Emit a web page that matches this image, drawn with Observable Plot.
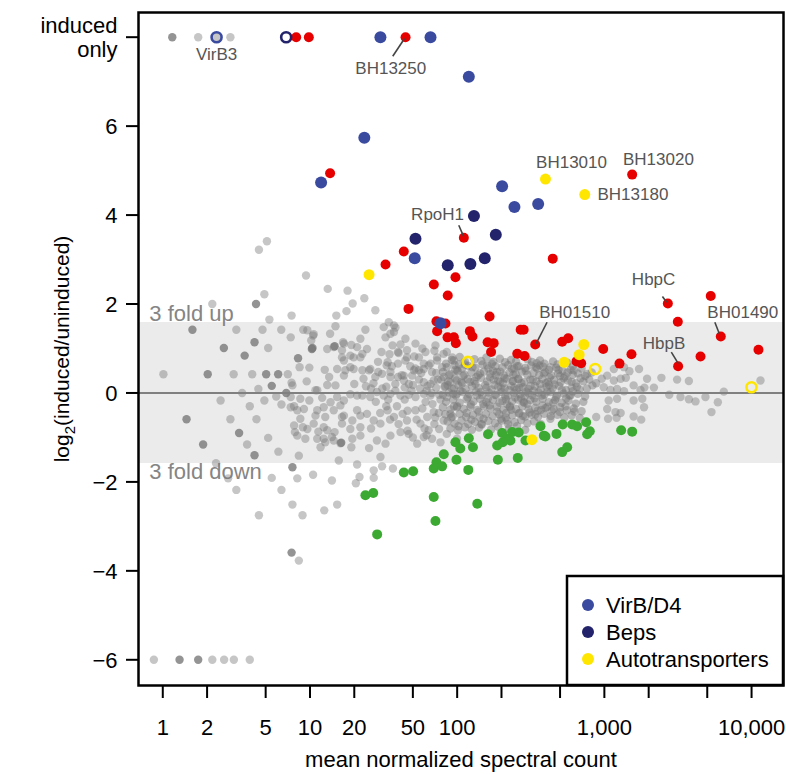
<!DOCTYPE html>
<html><head><meta charset="utf-8">
<script src="https://cdn.jsdelivr.net/npm/d3@7"></script>
<script src="https://cdn.jsdelivr.net/npm/@observablehq/plot@0.6"></script>
<style>
html,body{margin:0;padding:0;background:#fff;}
#chart{width:786px;height:774px;}
</style></head><body><div id="chart"></div>
<script>
// ---------- data ----------
const xTickValues = [1,2,5,10,20,50,100,200,500,1000,2000,5000,10000];
const xTickLabels = ["1","2","5","10","20","50","100","","","1,000","","","10,000"];
const yTickValues = [8,6,4,2,0,-2,-4,-6];
const yTickLabels = ["induced\nonly","6","4","2","0","\u22122","\u22124","\u22126"];

// [mean normalized spectral count, log2(induced/uninduced)]
const graySparse = [
[1.74,8],[2.32,8],[2.88,8],
[0.87,-6],[2.17,-6],[2.61,-6],[3.04,-6],[3.90,-6],
[5.1,3.41],[4.5,3.22],[9.4,2.64],[13.2,2.34],[18,2.30],[4.9,2.22],[2.17,2.00],[23.4,2.13],[19.5,2.01],[17.7,1.84],[27.8,1.86],[15.1,1.74],[7.5,1.74],[5.3,1.65],[3.16,1.42],[4.76,1.42],[6.38,1.42],[9.0,1.42],[10.5,1.29],[7.4,1.25],[5.2,1.01],[14.5,1.03],[13.7,1.33],[14.9,1.50],[23.8,1.42],[8.5,0.58],[1.01,0.42],[3.03,0.42],[4.05,0.42],[7.07,0.42],[4.46,0.09],[7.5,0.23],[9.5,0.26],[10.9,0.06],[13.1,0.18],[13.5,0.36],[17,0.39],[18.8,0.58],[16.5,0.80],[18.8,0.84],[22,0.80],[20.9,1.03],[17,1.11],[19.1,1.08],[22,1.22],[31.7,1.48],[34.3,1.59],[38.1,1.47],[32.6,1.25],[37.2,1.37],[44.5,1.22],[36.4,1.07],[41.2,1.09],[52.1,1.11],[30.6,0.92],[34.7,0.87],[39.6,0.92],[45.6,0.80],[51.1,0.82],[33.2,0.62],[39.6,0.66],[25.7,0.54],[29.1,0.47],[23.1,0.32],[35.2,0.36],[43.4,0.39],[50.9,0.51],[59.3,0.66],[60.9,0.92],[71.2,1.07],[80.9,0.88],[92.7,0.80],[73.1,0.73],
[9.6,1.41],[10.6,1.32],[10.2,1.18],[13.1,0.99],[9.9,0.57],[12.6,0.52],[16.8,1.14],[24.4,0.99],[16.5,0.96],[17,0.73],[19.8,0.80],[22.7,0.88],[15.3,0.54],[17.4,0.51],[19.8,0.54],[22.7,0.51],[25.2,0.51],[37.2,1.52],[35.2,1.33],[33.7,0.69],[45.6,0.96],[44.5,0.73],[27.8,0.36],[30.9,0.43],[35.2,0.47],[39.6,0.36],[43.4,0.28],[49.4,0.39],[54.9,0.51],[65.9,0.66],[73.1,0.80],[59.3,0.54],[67.5,0.47],[79,0.58],[85,0.92],[94.8,0.73],[99.8,0.51],[80.9,0.36],[90,0.24],[69.3,0.28],[59.3,0.24],
[7.6,0.17],[7.4,-0.09],[8.6,-0.13],[9.9,-0.17],[11.2,0.06],[12.1,-0.11],[14.9,0.17],[15.3,-0.09],[17,-0.17],[13.8,-0.21],
[18.8,-0.03],[20.9,-0.06],[22.7,-0.06],[25.7,-0.09],[28.5,0.02],[31.7,-0.06],[35.2,-0.02],[41.2,-0.06],[46.8,-0.04],[52.1,-0.09],[59.3,-0.02],[65.9,-0.06],[75.4,-0.04],[85.1,-0.09],[99.8,-0.02],
[20,0.2],[24,0.15],[27,0.22],[33,0.14],[38,0.2],[44,0.12],[50,0.18],[56,0.1],[63,0.16],[72,0.12],[83,0.15],[95,0.1],
[7.4,-0.32],[8.2,-0.39],[9.1,-0.36],[11.2,-0.39],[12.4,-0.32],[14.5,-0.39],[16.1,-0.28],[8.6,-0.58],[10.9,-0.51],[12.7,-0.54],[16.5,-0.54],[7.8,-0.73],[9.6,-0.81],[10.6,-0.69],[12.4,-0.77],[19.4,-0.62],[22,-0.51],[20.9,-0.39],[24.4,-0.47],[27.1,-0.62],[30.1,-0.69],[33.7,-0.39],[37.2,-0.54],[42.6,-0.47],[45.6,-0.62],[52.1,-0.39],[56.3,-0.69],[62.6,-0.54],[69.3,-0.43],[80.9,-0.62],[90,-0.47],[99.8,-0.32],[18.8,-0.81],[22,-0.77],[16.5,-0.69],[8.2,-0.96],[9.3,-1.03],[11.2,-1.03],[12.4,-1.03],[14.1,-0.99],[16.1,-1.13],[19.4,-1.03],[22,-0.96],[11.8,-1.22],[12.7,-1.11],[8.4,-1.41],[15.7,-1.52],[20.9,-1.61],[30.1,-1.44],[25.2,-1.24],[28.5,-1.07],[32.6,-1.14],[35.2,-0.96],[41.2,-0.88],[46.8,-0.92],[53.5,-1.14],[59.3,-0.99],[67.5,-1.03],[77,-1.11],[64,-0.84],[75.4,-0.81],[85,-0.92],[99.8,-1.03],
[2.47,-0.17],[3.46,0.00],[3.9,-0.30],[4.9,-0.17],[5.9,-0.08],[6.4,-0.26],[7.8,-0.30],[2.88,-0.59],[4.33,-0.59],[3.74,-1.16],[5.2,-1.01],[6.1,-1.32],[2.3,-1.58],[2.78,-1.92],[3.16,-2.18],[5.5,-1.91],[6.4,-2.18],[8.2,-1.92],[10.5,-1.84],[14.1,-1.97],[7.6,-2.51],[4.5,-2.75],[8.9,-2.75],[12.5,-2.64],[15.3,-2.51],[8.4,-3.77],[14.5,-1.07],[19.1,-1.22],[30.9,-1.65],[27.1,-1.74],[27.1,-1.91],[21.7,-1.89],[20.5,-2.03],[36.6,-1.70],[7.9,-0.88],[8.95,-0.77],[11.4,-0.87],[13.1,-0.84],[14.7,-0.88],[17,-0.51],
[55,0.3],[62,0.05],[68,-0.25],[58,-0.35],[72,0.45],[66,0.2],[75,-0.45],[52,0.55],[47,0.2],[44,-0.15],[70,-0.7],[60,-0.8],[40,-0.7],[48,0.6],[38,0.05],[33,-0.3],[28,-0.2],[26,0.1],[30,-0.45],
[31,0.1],[34,-0.15],[36,0.6],[39,-0.3],[42,0.4],[46,-0.4],[49,0.05],[53,-0.6],[57,0.45],[61,-0.2],[64,0.62],[67,0.0],[71,-0.55],[74,0.3],[77,-0.15],[40,0.9],[46,-0.85],[55,0.8],[62,-0.95],[70,0.95],[35,-0.6],[29,0.7],[26,-0.8],[58,1.0],[50,-1.0],
[1160,0.54],[1360,0.58],[1480,0.49],[1720,0.54],[1045,0.39],[1160,0.28],[1290,0.32],[1400,0.34],[1950,0.32],[2440,0.34],[3120,0.30],[3750,0.27],[1580,0.17],[1870,0.12],[2170,0.12],[990,0.13],[1100,0.07],[1220,0.09],[1360,0.04],[1760,0.07],[2760,-0.04],[3290,-0.09],[3750,-0.14],[4160,-0.19],[4860,-0.09],[5340,-0.43],[5900,-0.21],[6480,0.03],[11500,0.28],[1070,-0.17],[1220,-0.13],[1580,-0.17],[1810,-0.13],[1860,-0.32],[1045,-0.36],[1190,-0.43],[1290,-0.45],[1060,-0.58],[1210,-0.56],[1580,-0.53],[1780,-0.60],[960,0.32],[880,-0.54],[347,0.67],[430,0.58],[620,0.51],[765,0.43]
];

const grayCore = [
[92,0.74],[104,0.81],[113,0.70],[131,0.76],[146,0.72],[158,0.80],[176,0.70],[195,0.77],[212,0.69],[232,0.74],[251,0.71],[300,0.76],[322,0.70],[365,0.73],[392,0.66],[448,0.71],[480,0.64],[560,0.68],[612,0.60],[700,0.55],[820,0.46],
[85,0.58],[96,0.63],[108,0.55],[119,0.61],[133,0.57],[149,0.64],[163,0.55],[182,0.60],[203,0.58],[222,0.63],[244,0.55],[262,0.60],[290,0.56],[318,0.62],[350,0.55],[384,0.59],[420,0.52],[470,0.57],[520,0.50],[590,0.52],[660,0.44],[740,0.38],
[80,0.47],[90,0.42],[101,0.49],[112,0.41],[125,0.46],[139,0.40],[152,0.48],[168,0.43],[186,0.47],[207,0.40],[227,0.46],[250,0.42],[275,0.48],[300,0.41],[330,0.45],[361,0.40],[395,0.47],[436,0.40],[485,0.44],[540,0.37],[610,0.41],[690,0.33],[790,0.30],[880,0.22],
[78,0.30],[87,0.26],[97,0.33],[107,0.25],[118,0.31],[131,0.27],[145,0.34],[160,0.26],[177,0.30],[196,0.25],[217,0.32],[238,0.27],[261,0.31],[286,0.24],[314,0.30],[346,0.26],[378,0.32],[414,0.25],[455,0.29],[505,0.24],[565,0.28],[640,0.22],[720,0.26],[830,0.17],
[82,0.14],[92,0.10],[102,0.17],[114,0.09],[126,0.15],[140,0.11],[155,0.18],[171,0.08],[190,0.14],[210,0.10],[232,0.16],[254,0.08],[279,0.13],[305,0.09],[337,0.15],[370,0.08],[405,0.14],[445,0.10],[492,0.16],[548,0.07],[600,0.12],[680,0.08],[760,0.10],
[80,-0.04],[88,0.01],[98,-0.06],[109,0.02],[121,-0.03],[134,0.03],[148,-0.05],[164,0.01],[181,-0.04],[200,0.02],[221,-0.06],[243,0.00],[268,-0.03],[294,0.03],[324,-0.05],[357,0.01],[392,-0.04],[432,0.02],[476,-0.06],[528,-0.01],[590,-0.05],[660,-0.02],[740,-0.08],
[84,-0.20],[94,-0.15],[104,-0.22],[116,-0.14],[129,-0.19],[143,-0.13],[158,-0.21],[175,-0.16],[194,-0.22],[214,-0.14],[236,-0.19],[259,-0.15],[285,-0.22],[314,-0.16],[345,-0.20],[381,-0.13],[420,-0.21],[462,-0.16],[512,-0.22],[570,-0.17],[640,-0.24],[720,-0.20],
[80,-0.32],[90,-0.37],[100,-0.30],[111,-0.36],[123,-0.31],[137,-0.38],[152,-0.30],[168,-0.35],[186,-0.31],[206,-0.38],[228,-0.32],[251,-0.36],[277,-0.30],[306,-0.37],[338,-0.33],[372,-0.38],[410,-0.31],[452,-0.36],[500,-0.32],[556,-0.39],[620,-0.35],[700,-0.41],
[83,-0.48],[93,-0.53],[104,-0.47],[115,-0.54],[128,-0.49],[142,-0.55],[157,-0.47],[174,-0.52],[193,-0.48],[214,-0.55],[237,-0.50],[262,-0.46],[290,-0.53],[320,-0.49],[354,-0.54],[390,-0.47],[432,-0.52],[480,-0.49],[535,-0.55],[600,-0.50],[680,-0.56],
[86,-0.64],[96,-0.69],[107,-0.62],[119,-0.70],[132,-0.65],[147,-0.71],[163,-0.63],[181,-0.68],[201,-0.62],[222,-0.70],[246,-0.66],[272,-0.61],[300,-0.68],[333,-0.64],[370,-0.70],[430,-0.58],
[90,-0.80],[101,-0.84],[113,-0.77],[126,-0.83],[141,-0.78],[170,-0.82],[190,-0.76],[225,-0.80],[255,-0.75],[290,-0.83],
[105,0.05],[118,-0.10],[133,0.20],[150,-0.25],[167,0.35],[184,-0.05],[205,0.22],[228,-0.30],[245,0.12],[272,-0.12],[110,0.38],[140,-0.42],[175,0.50],[198,-0.58],[260,0.32],[300,-0.25],[125,-0.60],[160,0.62],[215,-0.45],[330,0.05],[380,-0.28],[420,0.18],[95,-0.30],[88,0.40],[235,0.55],[280,-0.52],[145,0.02],[190,0.28],[122,0.25],[212,-0.08],
[97,0.52],[108,0.22],[116,-0.45],[127,0.58],[136,-0.05],[143,0.44],[151,-0.58],[158,0.12],[166,-0.28],[172,0.66],[179,0.18],[187,-0.42],[196,0.48],[203,-0.18],[210,0.33],[219,-0.62],[226,0.06],[233,-0.38],[241,0.41],[248,-0.10],[256,0.60],[265,-0.45],[273,0.22],[282,-0.20],[292,0.50],[303,0.00],[311,-0.44],[326,0.30],[335,-0.12],[343,0.58],[352,-0.40],[366,0.20],[375,-0.06],[388,0.44],[398,-0.34],[410,0.03],[425,0.35],[440,-0.40],[458,0.19],[470,-0.10],[488,0.52],[498,-0.43],[515,0.06],[530,0.33],[545,-0.30],[562,0.46],[580,-0.06],[598,0.25],[625,-0.42],[650,0.14],
[102,-0.75],[113,0.64],[124,-0.26],[135,0.36],[146,-0.70],[162,-0.12],[183,0.40],[199,0.10],[218,-0.25],[240,0.26],[264,0.12],[288,-0.08],[315,0.16],[340,-0.48],[362,0.62],[400,0.22],[450,-0.22],[500,0.38],[550,-0.12],[610,0.04],
[86,0.18],[91,-0.55],[99,0.28],[84,0.66],[94,-0.02],[103,0.64]
];

// points where several proteins coincide (drawn darker)
const grayStacked = [
[1.16,8],[1.30,-6],[1.74,-6],[4.3,2.00],[1.59,1.42],[4.2,1.14],[10.4,1.01],[2.6,1.01],[3.6,0.84],[8.3,0.78],[2.02,0.42],[5.04,0.42],[6.08,0.42],[5.5,0.16],[6.9,0.00],[1.45,-0.59],[3.3,-0.90],[1.88,-1.16],[4.2,-1.40],[7.6,-1.67],[7.5,-3.59],[14.7,1.05],[10.3,0.99],[16.3,-1.12]
];

const downPoints = [
[23.8,-2.30],[26.9,-2.25],[28.6,-3.18],[43.4,-1.79],[50.2,-1.76],[69.3,-1.70],[72.3,-1.56],[79.0,-1.65],[81.1,-1.38],[98.9,-1.50],[69.3,-2.34],[71.2,-2.88],[97.3,-1.11],[105,-1.25],[120,-1.02],[128,-1.22],[119,-1.73],[137,-2.49],[162,-0.93],[189,-1.50],[187,-1.18],[202,-0.90],[219,-1.03],[236,-0.88],[262,-0.89],[230,-1.07],[204,-1.11],[258,-1.46],[291,-1.07],[368,-0.75],[388,-0.96],[398,-0.98],[473,-0.92],[521,-0.71],[604,-0.71],[653,-0.75],[752,-0.66],[796,-0.86],[764,-0.93],[517,-1.33],[559,-1.22],[1300,-0.84],[1545,-0.87]
];

const upPoints = [
[8.06,8],[9.82,8],[44.6,8],[13.7,4.94],[1545,4.91],[111,3.49],[43.4,3.18],[32.6,2.89],[446,3.02],[97.4,2.60],[69.4,2.44],[86.3,2.19],[46.7,1.89],[166,1.72],[2700,2.01],[5280,2.18],[3155,1.60],[6180,1.27],[11140,0.97],[3170,0.60],[4500,0.82],[339,1.09],[270,1.42],[283,1.42],[517,1.15],[568,1.23],[982,0.99],[1528,0.87],[1267,0.66],[647,0.71],[696,0.67],[256,0.88],[287,0.83],[161,1.14],[177,1.12],[170,0.92],[122,1.39],[127,1.27],[86,1.25],[95,1.25],[98,1.12],[72.3,1.61],[83.3,1.56],[73.1,1.39]
];

const virbPoints = [[30.1,8],[65.9,8],[120,7.11],[23.4,5.74],[11.9,4.73],[202,4.65],[245,4.18],[355,4.25],[51.5,3.03],[77.1,1.57]];
const virbOpen = [[2.32,8]];
const bepPoints = [[52.1,3.47],[130,3.98],[183,3.56],[86.3,2.87],[123,2.90],[154,3.03]];
const bepOpen = [[6.89,8]];
const autoPoints = [[25.2,2.66],[398,4.81],[736,4.46],[725,1.09],[674,0.86],[533,0.69],[322,-1.05]];
const autoOpen = [[118,0.70],[866,0.54],[9980,0.13]];

// annotation labels: [text, count, ratio] ; leaders: [count1, ratio1, count2, ratio2]
const labelsMiddle = [["VirB3",2.32,7.62],["BH13250",35.4,7.30],["BH13010",598,5.18],["BH13020",2330,5.24],["RpoH1",73.6,4.01],["HbpC",2160,2.54],["BH01510",628,1.80],["BH01490",8720,1.80],["HbpB",2540,1.12]];
const labelsStart = [["BH13180",898,4.46]];
const leaders = [[43.9,7.97,36.5,7.57],[102.5,3.77,110.6,3.52],[2480,2.17,2650,2.04],[408,1.59,344,1.11],[5630,1.59,6040,1.33],[2850,0.92,3180,0.66]];
const bandLabels = [["3 fold up",0.81,1.78],["3 fold down",0.81,-1.77]];

const legendLabels = ["VirB/D4","Beps","Autotransporters"];

// ---------- styles ----------
const FONT = "'Liberation Sans', Arial, Helvetica, sans-serif";
const C = {virb:"#3a4a9f", bep:"#22236b", auto:"#ffe600", up:"#e60000", down:"#3caa32", gray:"#767676"};
const legendColors = [C.virb, C.bep, C.auto];

const rows = a => a.map(([count, ratio]) => ({count, ratio}));
const xDomain = [0.684, 16480], yDomain = [-6.578, 8.555];
const fold = Math.log2(3);
const xLabelRows = xTickValues.map((v, i) => ({v, t: xTickLabels[i]})).filter(d => d.t !== "");

const plot = Plot.plot({
  width: 786, height: 774,
  marginLeft: 138, marginRight: 3, marginTop: 12, marginBottom: 89,
  style: {fontFamily: FONT, fontSize: "22px", background: "white", color: "black"},
  x: {type: "log", domain: xDomain},
  y: {domain: yDomain},
  marks: [
    Plot.rect([{x1: xDomain[0], x2: xDomain[1], y1: -fold, y2: fold}], {x1: "x1", x2: "x2", y1: "y1", y2: "y2", fill: "#ebebeb"}),
    Plot.text(bandLabels.map(([t,c,r]) => ({t,c,r})), {x: "c", y: "r", text: "t", textAnchor: "start", fill: "#858585", fontSize: 22}),
    Plot.dot(rows(graySparse), {x: "count", y: "ratio", r: 4.2, fill: C.gray, fillOpacity: 0.42}),
    Plot.dot(rows(grayCore), {x: "count", y: "ratio", r: 4.2, fill: C.gray, fillOpacity: 0.47}),
    Plot.dot(rows(grayStacked), {x: "count", y: "ratio", r: 4.2, fill: C.gray, fillOpacity: 0.78}),
    Plot.ruleY([0], {stroke: "#808080", strokeWidth: 2}),
    Plot.dot(rows(downPoints), {x: "count", y: "ratio", r: 5, fill: C.down}),
    Plot.dot(rows(upPoints), {x: "count", y: "ratio", r: 5, fill: C.up}),
    Plot.dot(rows(autoPoints), {x: "count", y: "ratio", r: 5.5, fill: C.auto}),
    Plot.dot(rows(virbPoints), {x: "count", y: "ratio", r: 6, fill: C.virb}),
    Plot.dot(rows(bepPoints), {x: "count", y: "ratio", r: 6, fill: C.bep}),
    Plot.dot(rows(autoOpen), {x: "count", y: "ratio", r: 5, fill: "none", stroke: C.auto, strokeWidth: 2.6}),
    Plot.dot(rows(virbOpen), {x: "count", y: "ratio", r: 5, fill: "none", stroke: C.virb, strokeWidth: 2.6}),
    Plot.dot(rows(bepOpen), {x: "count", y: "ratio", r: 5, fill: "none", stroke: C.bep, strokeWidth: 2.6}),
    Plot.link(leaders.map(([a,b,c,d]) => ({a,b,c,d})), {x1: "a", y1: "b", x2: "c", y2: "d", stroke: "#444", strokeWidth: 1.6}),
    Plot.text(labelsMiddle.map(([t,c,r]) => ({t,c,r})), {x: "c", y: "r", text: "t", fill: "#555", fontSize: 17}),
    Plot.text(labelsStart.map(([t,c,r]) => ({t,c,r})), {x: "c", y: "r", text: "t", textAnchor: "start", fill: "#555", fontSize: 17}),
    Plot.frame({stroke: "black", strokeWidth: 2.5}),
    Plot.axisY({ticks: yTickValues, tickFormat: d => yTickLabels[yTickValues.indexOf(d)], tickSize: 12, tickPadding: 9, fontSize: 22, strokeWidth: 2, lineHeight: 1.1, label: null, stroke: "black", fill: "black"}),
    Plot.axisX({ticks: xTickValues, tickFormat: () => "", tickSize: 13, strokeWidth: 2, label: null, stroke: "black"}),
    Plot.text(xLabelRows, {x: "v", text: "t", frameAnchor: "bottom", lineAnchor: "middle", textAnchor: "middle", dy: 42, fontSize: 22, fill: "black"}),
    Plot.text(["mean normalized spectral count"], {text: d => d, frameAnchor: "bottom", lineAnchor: "middle", textAnchor: "middle", dy: 74, fontSize: 22, fill: "black"}),
    Plot.text(["log2(induced/uninduced)"], {text: d => d, frameAnchor: "left", textAnchor: "middle", lineAnchor: "middle", dx: -76, rotate: -90, fontSize: 21, fill: "black"})
  ]
});
document.getElementById("chart").appendChild(plot);

// subscript in the y-axis title
const svg = d3.select(plot);
svg.selectAll("text").filter(function(){ return this.textContent === "log2(induced/uninduced)"; }).each(function(){
  const t = d3.select(this);
  t.text(null);
  t.append("tspan").text("log");
  t.append("tspan").attr("dy", 6).attr("font-size", 15).text("2");
  t.append("tspan").attr("dy", -6).text("(induced/uninduced)");
});

// legend box (bottom-right, inside the frame)
const lg = svg.append("g").attr("font-family", FONT).attr("font-size", 22).attr("text-anchor", "start");
lg.append("rect").attr("x", 567).attr("y", 576).attr("width", 216).attr("height", 109)
  .attr("fill", "white").attr("stroke", "black").attr("stroke-width", 2.5);
legendLabels.forEach((name, i) => {
  const cy = 605 + 27 * i;
  lg.append("circle").attr("cx", 588).attr("cy", cy).attr("r", 6).attr("fill", legendColors[i]);
  lg.append("text").attr("x", 606).attr("y", cy).attr("dy", "0.35em").attr("text-anchor", "start").attr("fill", "black").text(name);
});
</script>
</body></html>
